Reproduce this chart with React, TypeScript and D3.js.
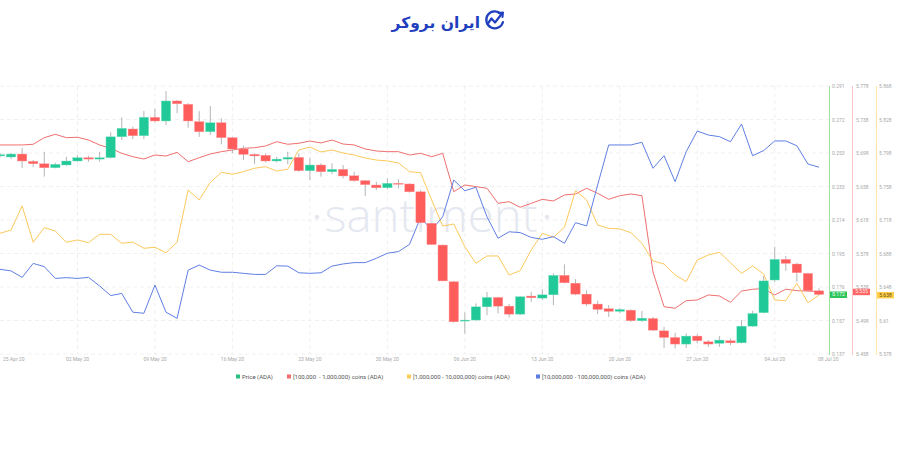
import React from 'react';
import * as d3 from 'd3';

// ---------- DATA ----------
const startDate = new Date(2020, 3, 25);
const endDate = new Date(2020, 6, 8);
const dates = d3.timeDay.range(startDate, d3.timeDay.offset(endDate, 1));

const priceOpen = [0.2508,0.2502,0.2519,0.2477,0.2463,0.2440,0.2456,0.2479,0.2498,0.2490,0.2498,0.2618,0.2663,0.2624,0.2730,0.2709,0.2824,0.2805,0.2705,0.2647,0.2699,0.2613,0.2548,0.2517,0.2512,0.2479,0.2490,0.2500,0.2423,0.2456,0.2417,0.2431,0.2394,0.2366,0.2341,0.2325,0.2351,0.2347,0.2302,0.2121,0.1996,0.1785,0.1559,0.1565,0.1641,0.1695,0.1645,0.1599,0.1703,0.1691,0.1710,0.1822,0.1777,0.1714,0.1657,0.1630,0.1615,0.1622,0.1561,0.1574,0.1503,0.1465,0.1427,0.1473,0.1440,0.1431,0.1446,0.1434,0.1530,0.1607,0.1795,0.1914,0.1887,0.1833,0.1733];
const priceHigh = [0.2525,0.2525,0.2554,0.2485,0.2532,0.2469,0.2503,0.2513,0.2509,0.2532,0.2644,0.2730,0.2676,0.2766,0.2778,0.2881,0.2830,0.2811,0.2766,0.2795,0.2724,0.2618,0.2567,0.2523,0.2523,0.2503,0.2532,0.2523,0.2496,0.2466,0.2466,0.2456,0.2417,0.2370,0.2360,0.2379,0.2374,0.2351,0.2312,0.2124,0.1999,0.1790,0.1609,0.1661,0.1727,0.1699,0.1657,0.1703,0.1727,0.1741,0.1833,0.1885,0.1800,0.1737,0.1676,0.1651,0.1634,0.1626,0.1618,0.1583,0.1526,0.1492,0.1488,0.1484,0.1450,0.1473,0.1459,0.1565,0.1618,0.1818,0.1986,0.1933,0.1894,0.1837,0.1747];
const priceLow = [0.2499,0.2490,0.2439,0.2444,0.2389,0.2437,0.2453,0.2475,0.2475,0.2475,0.2494,0.2600,0.2605,0.2605,0.2701,0.2686,0.2753,0.2670,0.2618,0.2628,0.2575,0.2523,0.2485,0.2462,0.2471,0.2471,0.2460,0.2417,0.2370,0.2389,0.2404,0.2379,0.2360,0.2278,0.2312,0.2316,0.2322,0.2297,0.2121,0.1996,0.1789,0.1549,0.1488,0.1561,0.1593,0.1603,0.1580,0.1593,0.1670,0.1680,0.1651,0.1776,0.1708,0.1645,0.1599,0.1583,0.1605,0.1555,0.1555,0.1503,0.1404,0.1402,0.1404,0.1431,0.1411,0.1411,0.1421,0.1431,0.1526,0.1603,0.1785,0.1848,0.1785,0.1727,0.1708];
const priceClose = [0.2516,0.2519,0.2479,0.2463,0.2440,0.2460,0.2479,0.2498,0.2490,0.2498,0.2618,0.2667,0.2624,0.2730,0.2709,0.2824,0.2808,0.2709,0.2647,0.2699,0.2613,0.2548,0.2517,0.2508,0.2479,0.2490,0.2500,0.2423,0.2456,0.2417,0.2431,0.2393,0.2366,0.2343,0.2325,0.2351,0.2347,0.2302,0.2124,0.1999,0.1790,0.1555,0.1565,0.1641,0.1695,0.1645,0.1599,0.1699,0.1693,0.1710,0.1822,0.1779,0.1714,0.1657,0.1626,0.1615,0.1626,0.1561,0.1576,0.1507,0.1465,0.1427,0.1473,0.1446,0.1427,0.1450,0.1434,0.1530,0.1603,0.1790,0.1914,0.1891,0.1837,0.1733,0.1712];

// [100,000 - 1,000,000) coins
const redSeries = [5.7076,5.7076,5.7076,5.7084,5.7163,5.7203,5.7163,5.7168,5.7135,5.7076,5.7036,5.6976,5.6936,5.6908,5.6956,5.6944,5.6988,5.6876,5.6924,5.6968,5.6996,5.7016,5.7036,5.7043,5.7064,5.7115,5.7084,5.7096,5.7123,5.7100,5.7135,5.7087,5.7076,5.7028,5.7004,5.6996,5.6996,5.6956,5.6976,5.6936,5.6976,5.6518,5.6598,5.6578,5.6559,5.6379,5.6399,5.6332,5.6379,5.6427,5.6407,5.6479,5.6491,5.6559,5.6499,5.6427,5.6470,5.6491,5.6470,5.5559,5.5145,5.5126,5.5217,5.5225,5.5285,5.5273,5.5197,5.5332,5.5353,5.5360,5.5285,5.5353,5.5336,5.5332,5.5324];
// [1,000,000 - 10,000,000) coins
const yellowSeries = [5.7086,5.7122,5.7382,5.6989,5.7147,5.7111,5.6989,5.7014,5.6985,5.7075,5.7075,5.6978,5.6992,5.6924,5.6935,5.6876,5.6989,5.7555,5.7447,5.7636,5.7746,5.7725,5.7753,5.7790,5.7807,5.7760,5.7779,5.7988,5.8020,5.7966,5.7988,5.7955,5.7933,5.7901,5.7879,5.7869,5.7847,5.7753,5.7742,5.7447,5.7165,5.7187,5.6941,5.6762,5.6841,5.6841,5.6635,5.6682,5.6906,5.7086,5.7043,5.7151,5.7547,5.7447,5.7176,5.7140,5.7133,5.7093,5.6978,5.6787,5.6754,5.6635,5.6563,5.6797,5.6851,5.6881,5.6768,5.6653,5.6732,5.6646,5.6365,5.6357,5.6545,5.6335,5.6419];
// [10,000,000 - 100,000,000) coins (relative scale, axis hidden)
const blueSeries = [31.6,31.0,28.6,33.8,32.6,28.2,28.5,28.2,28.6,25.4,21.8,22.6,15.6,15.2,25.7,15.6,13.3,31.3,33.2,31.3,30.5,30.5,30.1,29.7,29.7,32.9,32.8,30.3,30.1,30.3,32.8,33.6,34.1,34.1,35.7,37.6,38.2,40.9,50.9,46.3,51.2,64.9,60.9,62.2,51.2,43.2,45.6,45.3,43.5,42.8,43.8,41.3,49.0,47.8,63.1,78.0,78.0,78.0,79.0,69.3,74.0,64.3,75.5,83.2,81.7,81.1,79.2,85.8,74.0,75.9,79.5,79.5,77.7,70.9,69.7];

const priceTicks = ['0.291','0.272','0.253','0.233','0.214','0.195','0.176','0.157','0.137'];
const redTicks = ['5.778','5.738','5.698','5.658','5.618','5.578','5.538','5.498','5.458'];
const yellowTicks = ['5.868','5.828','5.798','5.758','5.718','5.688','5.648','5.61','5.578'];
const xTickDates = [
  new Date(2020, 3, 25), new Date(2020, 4, 2), new Date(2020, 4, 9), new Date(2020, 4, 16),
  new Date(2020, 4, 23), new Date(2020, 4, 30), new Date(2020, 5, 6), new Date(2020, 5, 13),
  new Date(2020, 5, 20), new Date(2020, 5, 27), new Date(2020, 6, 4), new Date(2020, 6, 8),
];
const badgeLabels = { price: '0.172', red: '5.535', yellow: '5.638' };

const legendItems = [
  { label: 'Price (ADA)', color: '#26c281' },
  { label: '[100,000  - 1,000,000) coins (ADA)', color: '#f26d6d' },
  { label: '[1,000,000 - 10,000,000) coins (ADA)', color: '#ffcb57' },
  { label: '[10,000,000 - 100,000,000) coins (ADA)', color: '#5b7be3' },
];

// ---------- LAYOUT ----------
const W = 900, H = 471;
const plotLeft = 0, plotRight = 829, plotTop = 86, plotBottom = 354;
const FONT = 'Roboto, "Noto Sans", sans-serif';

const COL_UP = '#21c998';
const COL_DOWN = '#ff5c5c';
const COL_RED_LINE = '#ef6f6f';
const COL_YEL_LINE = '#fcc95b';
const COL_BLUE_LINE = '#5f7fe4';

export default function App() {
  const x = d3.scaleTime().domain([startDate, endDate]).range([0, 819]);
  const yPrice = d3.scaleLinear().domain([0.137, 0.291]).range([plotBottom, plotTop]);
  const yRed = d3.scaleLinear().domain([5.458, 5.778]).range([plotBottom, plotTop]);
  const yYel = d3.scaleLinear().domain([5.578, 5.868]).range([plotBottom, plotTop]);
  const yBlue = d3.scaleLinear().domain([0, 100]).range([plotBottom, plotTop]);
  const rowScale = d3.scaleLinear().domain([0, priceTicks.length - 1]).range([plotTop, plotBottom]);

  const step = x(dates[1]) - x(dates[0]);
  const bw = step * 0.85;

  const mkLine = (scale: d3.ScaleLinear<number, number>) =>
    d3.line<number>().x((_, i) => x(dates[i])).y(v => scale(v));

  const redPath = mkLine(yRed)(redSeries) || '';
  const yelPath = mkLine(yYel)(yellowSeries) || '';
  const bluePath = mkLine(yBlue)(blueSeries) || '';

  const fmt = d3.timeFormat('%d %b %y');
  const lastPriceY = yPrice(priceClose[priceClose.length - 1]);
  const lastRedY = yRed(redSeries[redSeries.length - 1]);
  const lastYelY = yYel(yellowSeries[yellowSeries.length - 1]);

  const legendX = [236, 287, 407, 536];

  return (
    <div style={{ position: 'absolute', left: 0, top: 0 }}>
      <svg width={W} height={H} style={{ display: 'block', background: '#fff' }} fontFamily={FONT}>
        <defs>
          <clipPath id="plotClip">
            <rect x={plotLeft} y={plotTop - 20} width={plotRight - plotLeft} height={plotBottom - plotTop + 40} />
          </clipPath>
        </defs>

        {/* Logo */}
        <g>
          <text x={480} y={28} textAnchor="end" fontFamily='"DejaVu Sans", sans-serif' fontWeight={700} fontSize={15.5} fill="#1f3fbf">ایران بروکر</text>
          <path d="M501,14 A8.5,8.5 0 1 0 503,22" fill="none" stroke="#1f3fbf" strokeWidth={2.2} strokeLinecap="round" />
          <path d="M487.5,24 L491.5,18.5 L495,22.5 L502,13.5" fill="none" stroke="#1f3fbf" strokeWidth={2.2} strokeLinecap="round" strokeLinejoin="round" />
          <path d="M498.5,13 L503,12.5 L502.5,17" fill="none" stroke="#1f3fbf" strokeWidth={2} strokeLinecap="round" strokeLinejoin="round" />
        </g>

        {/* Horizontal grid */}
        {priceTicks.map((_, i) => (
          <line key={'hg' + i} x1={plotLeft} x2={plotRight} y1={rowScale(i)} y2={rowScale(i)}
            stroke="#ececec" strokeWidth={0.8} strokeDasharray="4 3" />
        ))}
        {/* Vertical grid */}
        {xTickDates.slice(1, -1).map((d, i) => (
          <line key={'vg' + i} x1={x(d)} x2={x(d)} y1={plotTop} y2={plotBottom}
            stroke="#ececec" strokeWidth={0.8} strokeDasharray="4 3" />
        ))}

        {/* Watermark */}
        <g fill="#e5e8f0">
          <text x={431} y={232} textAnchor="middle" fontSize={46} fontWeight={300}
            fontFamily='"Open Sans", Roboto, sans-serif' textLength={213} lengthAdjust="spacingAndGlyphs">santiment</text>
          <circle cx={317} cy={217} r={2.3} />
          <circle cx={547} cy={217} r={2.3} />
        </g>

        <g clipPath="url(#plotClip)">
          <path d={redPath} fill="none" stroke={COL_RED_LINE} strokeWidth={1} />
          <path d={yelPath} fill="none" stroke={COL_YEL_LINE} strokeWidth={1} />
          <path d={bluePath} fill="none" stroke={COL_BLUE_LINE} strokeWidth={1} />

          {dates.map((d, i) => {
            const o = priceOpen[i], c = priceClose[i], h = priceHigh[i], l = priceLow[i];
            const up = c >= o;
            const cx = x(d);
            const top = yPrice(Math.max(o, c));
            const bot = yPrice(Math.min(o, c));
            return (
              <g key={'c' + i}>
                <line x1={cx} x2={cx} y1={yPrice(h)} y2={yPrice(l)} stroke="#b5b5b5" strokeWidth={1} />
                <rect x={cx - bw / 2} y={top} width={bw} height={Math.max(1, bot - top)}
                  fill={up ? COL_UP : COL_DOWN} stroke={up ? '#7fe0c2' : '#ff9a9a'} strokeWidth={0.4} />
              </g>
            );
          })}
        </g>

        {/* Right axes */}
        <line x1={829.5} x2={829.5} y1={plotTop} y2={plotBottom + 1} stroke="#9ee09e" strokeWidth={1} />
        <line x1={852.5} x2={852.5} y1={plotTop} y2={plotBottom + 1} stroke="#ffc4c4" strokeWidth={1} />
        <line x1={876.5} x2={876.5} y1={plotTop} y2={plotBottom + 1} stroke="#ffe6a3" strokeWidth={1} />
        {priceTicks.map((t, i) => (
          <text key={'pt' + i} x={832} y={rowScale(i) + 2} fontSize={5} fill="#a8a8a8">{t}</text>
        ))}
        {redTicks.map((t, i) => (
          <text key={'rt' + i} x={856} y={rowScale(i) + 2} fontSize={5} fill="#a8a8a8">{t}</text>
        ))}
        {yellowTicks.map((t, i) => (
          <text key={'yt' + i} x={879} y={rowScale(i) + 2} fontSize={5} fill="#a8a8a8">{t}</text>
        ))}

        {/* Badges */}
        <rect x={830} y={lastPriceY - 3} width={17} height={6.5} fill="#2bc55a" />
        <text x={838.5} y={lastPriceY + 1.8} textAnchor="middle" fontSize={5} fill="#ffffff">{badgeLabels.price}</text>
        <rect x={853} y={lastRedY - 3} width={17} height={6.5} fill="#ff6767" />
        <text x={861.5} y={lastRedY + 1.8} textAnchor="middle" fontSize={5} fill="#ffe9e9">{badgeLabels.red}</text>
        <rect x={877} y={lastYelY - 3} width={17} height={6.5} fill="#ffcf4a" />
        <text x={885.5} y={lastYelY + 1.8} textAnchor="middle" fontSize={5} fill="#5a4a10">{badgeLabels.yellow}</text>

        {/* X axis labels */}
        {xTickDates.map((d, i) => {
          const first = i === 0, last = i === xTickDates.length - 1;
          const px = first ? x(d) + 3 : last ? x(d) - 1 : x(d);
          return (
            <text key={'xt' + i} x={px} y={361} fontSize={5} fill="#a8a8a8"
              textAnchor={first || last ? 'start' : 'middle'}>{fmt(d)}</text>
          );
        })}

        {/* Legend */}
        {legendItems.map((it, i) => (
          <g key={'lg' + i}>
            <rect x={legendX[i]} y={374.5} width={4} height={4} fill={it.color} />
            <text x={legendX[i] + 6} y={378.8} fontSize={6} fill="#555" style={{ whiteSpace: 'pre' }}>{it.label}</text>
          </g>
        ))}
      </svg>
    </div>
  );
}
